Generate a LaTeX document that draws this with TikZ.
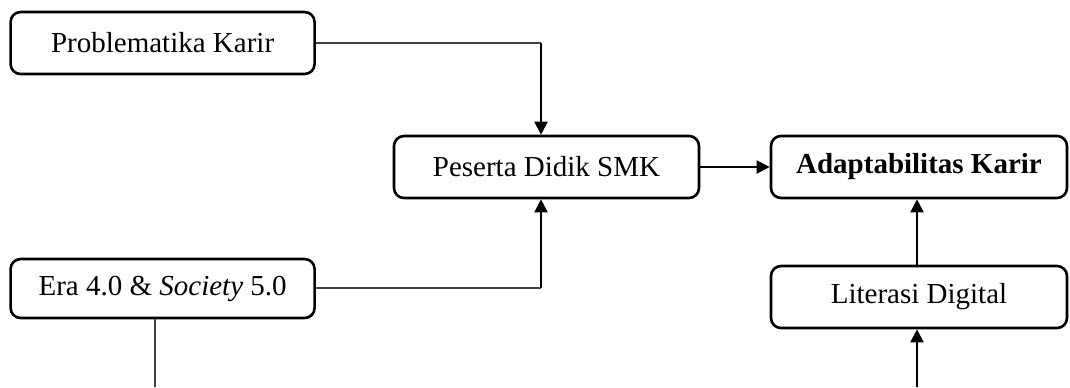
\documentclass[tikz,border=0pt]{standalone}
\usepackage{fontspec}
\setmainfont{Liberation Serif}
\usetikzlibrary{arrows.meta}
\begin{document}
\begin{tikzpicture}[x=0.5pt,y=-0.5pt,
  box/.style={draw=black, line width=1.3pt, rounded corners=5pt, fill=white,
    minimum height=31pt, inner sep=0pt, font=\fontsize{14.5}{17}\selectfont},
  thin/.style={draw=black!75, line width=0.6pt},
  arr/.style={draw=black, line width=1pt, -{Triangle[length=6.5pt,width=6.5pt]}},
  plain/.style={draw=black, line width=1pt}]
\useasboundingbox (0,0) rectangle (1070,387);
\node[box, minimum width=152pt] (prob) at (162.6,43) {Problematika Karir};
\node[box, minimum width=152.5pt] (pes) at (546.5,167) {Peserta Didik SMK};
\node[box, minimum width=148pt] (adp) at (919,167) {\textbf{Adaptabilitas Karir}};
\node[box, minimum width=152pt, minimum height=29.5pt] (era) at (162.6,288.5) {Era 4.0 \& \textit{Society} 5.0};
\node[box, minimum width=148pt] (lit) at (919,297) {Literasi Digital};
\coordinate (c1) at (541,43);
\coordinate (c2) at (541,288);
\coordinate (c3) at (155,387);
\coordinate (c4) at (917,387);
\draw[thin] (prob.east |- c1) -- (c1);
\draw[arr] (c1) -- (c1 |- pes.north);
\draw[thin] (era.east |- c2) -- (c2);
\draw[arr] (c2) -- (c2 |- pes.south);
\draw[arr] (pes.east) -- (adp.west);
\draw[arr] (lit.north -| c4) -- (c4 |- adp.south);
\draw[thin] (c3 |- era.south) -- (c3);
\draw[arr] (c4) -- (c4 |- lit.south);
\end{tikzpicture}
\end{document}
